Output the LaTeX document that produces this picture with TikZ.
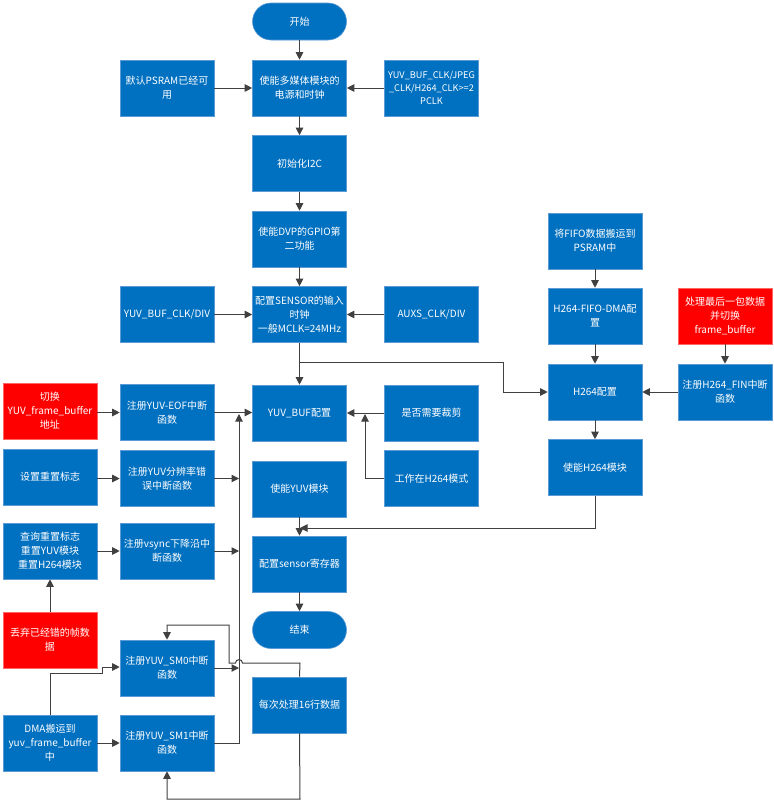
\documentclass[tikz,border=0pt]{standalone}
\usepackage{fontspec}
\setmainfont{Noto Sans CJK SC}
\usetikzlibrary{arrows.meta}
\definecolor{boxblue}{HTML}{0070C0}
\definecolor{boxedge}{HTML}{5B9BD5}
\definecolor{boxred}{HTML}{FF0000}
\definecolor{linec}{HTML}{404040}
\tikzset{
  blk/.style={rectangle, fill=boxblue, draw=boxedge, line width=0.6pt, minimum width=94pt, minimum height=56pt, inner sep=1pt, text=white, align=center, font=\fontsize{10}{14}\selectfont},
  redblk/.style={blk, fill=boxred, draw=boxred!60},
  term/.style={blk, minimum height=37pt, rounded corners=18.5pt},
  conn/.style={draw=linec, line width=1pt, -{Triangle[length=7.5pt,width=7.5pt]}},
  plain/.style={draw=linec, line width=1pt}
}
\begin{document}
\begin{tikzpicture}[x=1pt,y=-1pt]
\useasboundingbox (0,0) rectangle (774,812);
% centre column
\node[term] (start) at (299.5,21.5) {开始};
\node[blk] (power) at (299.5,88) {使能多媒体模块的\\电源和时钟};
\node[blk] (psram) at (167,88) {默认PSRAM已经可\\用};
\node[blk, font=\fontsize{9.2}{13}\selectfont] (jpeg) at (431.5,88) {YUV\_BUF\_CLK/JPEG\\\_CLK/H264\_CLK>=2\\PCLK};
\node[blk] (i2c) at (299.5,163.5) {初始化I2C};
\node[blk] (dvp) at (299.5,239) {使能DVP的GPIO第\\二功能};
\node[blk] (sensor) at (299.5,314.5) {配置SENSOR的输入\\时钟\\一般MCLK=24MHz};
\node[blk] (yuvdiv) at (167,314.5) {YUV\_BUF\_CLK/DIV};
\node[blk] (auxs) at (431.5,314.5) {AUXS\_CLK/DIV};
% right column
\node[blk] (fifo) at (595,241) {将FIFO数据搬运到\\PSRAM中};
\node[blk] (hdma) at (595,316) {H264-FIFO-DMA配\\置};
\node[blk] (hcfg) at (595,392) {H264配置};
\node[blk] (hen) at (595,467.5) {使能H264模块};
\node[redblk] (last) at (725,316) {处理最后一包数据\\并切换\\frame\_buffer};
\node[blk] (fin) at (725,392) {注册H264\_FIN中断\\函数};
% middle rows
\node[redblk] (swbuf) at (50,411) {切换\\YUV\_frame\_buffer\\地址};
\node[blk] (eof) at (167,412.5) {注册YUV-EOF中断\\函数};
\node[blk] (yuvbuf) at (299.5,413) {YUV\_BUF配置};
\node[blk] (crop) at (431.5,413) {是否需要裁剪};
\node[blk] (rflag) at (50,477) {设置重置标志};
\node[blk] (reserr) at (167,478.5) {注册YUV分辨率错\\误中断函数};
\node[blk] (yuven) at (299.5,489) {使能YUV模块};
\node[blk] (hmode) at (431.5,478.5) {工作在H264模式};
\node[blk] (query) at (50,551) {查询重置标志\\重置YUV模块\\重置H264模块};
\node[blk] (vsync) at (167,551) {注册vsync下降沿中\\断函数};
\node[blk] (sreg) at (299.5,564) {配置sensor寄存器};
\node[redblk] (discard) at (50,640) {丢弃已经错的帧数\\据};
\node[term] (end) at (299.5,630) {结束};
\node[blk] (sm0) at (167,668) {注册YUV\_SM0中断\\函数};
\node[blk] (rows) at (299.5,705) {每次处理16行数据};
\node[blk] (dma) at (50,743) {DMA搬运到\\yuv\_frame\_buffer\\中};
\node[blk] (sm1) at (167,743) {注册YUV\_SM1中断\\函数};
% helper coordinates
\coordinate (busTop) at (239,414);
% main flow
\draw[conn] (start) -- (power);
\draw[conn] (power) -- (i2c);
\draw[conn] (i2c) -- (dvp);
\draw[conn] (dvp) -- (sensor);
\draw[conn] (psram) -- (power);
\draw[conn] (jpeg) -- (power);
\draw[conn] (yuvdiv) -- (sensor);
\draw[conn] (auxs) -- (sensor);
\draw[conn] (sensor) -- (yuvbuf);
\draw[conn] (299.5,362) -- (503,362) -- (503,392) -- (hcfg.west);
\draw[conn] (fifo) -- (hdma);
\draw[conn] (hdma) -- (hcfg);
\draw[conn] (hcfg) -- (hen);
\draw[conn] (last) -- (fin);
\draw[conn] (fin) -- (hcfg);
\draw[conn] (hen.south) -- (595,528) -- (300,528);
\draw[conn] (yuven) -- (sreg);
\draw[conn] (sreg) -- (end);
\draw[conn] (crop) -- (yuvbuf);
\draw[conn] (hmode.west) -- (365,478.5) -- (365,414);
% left side
\draw[conn] (swbuf.east |- eof) -- (eof.west);
\draw[conn] (eof.east) -- (yuvbuf.west |- eof);
\draw[conn] (rflag.east |- reserr) -- (reserr.west);
\draw[conn] (reserr.east) -- (239,478.5);
\draw[conn] (query) -- (vsync);
\draw[conn] (vsync.east) -- (239,551);
\draw[conn] (sm0.east) -- (239,668);
\draw[conn] (sm1.east) -- (239,743) -- (busTop);
\draw[conn] (discard) -- (query);
\draw[conn] (dma) -- (sm1);
\draw[conn] (dma.north) -- (50,673) -- (102,673) -- (102,667) -- (sm0.west |- 0,667);
\draw[conn] (rows.north) -- (300,663) -- (242.5,663) .. controls (242.5,658.5) and (235.5,658.5) .. (235.5,663) -- (229,663) -- (229,625) -- (167,625) -- (sm0.north);
\draw[conn] (rows.south) -- (300,799) -- (167,799) -- (sm1.south);
\end{tikzpicture}
\end{document}
